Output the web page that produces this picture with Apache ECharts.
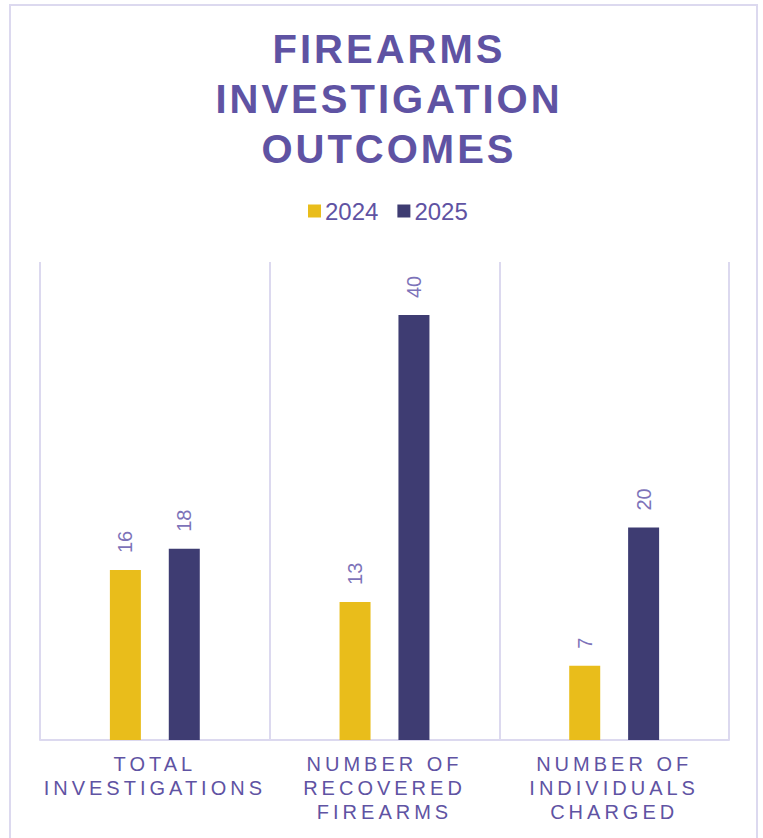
<!DOCTYPE html>
<html>
<head>
<meta charset="utf-8">
<script src="https://cdn.jsdelivr.net/npm/echarts@6/dist/echarts.min.js"></script>
<style>
  html, body { margin: 0; padding: 0; background: #fff; }
  #chart { width: 763px; height: 838px; }
  #chart text[style*="40px"] { letter-spacing: 3px; }
  #chart text[style*="20px"][style*="Arimo"] { letter-spacing: 4px; }
</style>
</head>
<body>
<div id="chart"></div>
<script>
const titleText = 'FIREARMS\nINVESTIGATION\nOUTCOMES';
const categories = ['TOTAL\nINVESTIGATIONS', 'NUMBER OF\nRECOVERED\nFIREARMS', 'NUMBER OF\nINDIVIDUALS\nCHARGED'];
const seriesNames = ['2024', '2025'];
const values2024 = [16, 13, 7];
const values2025 = [18, 40, 20];

const purple = '#5F53A3';
const labelPurple = '#7D73B9';
const gridColor = '#DCD9EF';
const baseFont = 'Liberation Sans, Arial, sans-serif';

const chart = echarts.init(document.getElementById('chart'), null, { renderer: 'svg' });

const barLabel = {
  show: true,
  position: 'top',
  rotate: 90,
  align: 'left',
  verticalAlign: 'middle',
  distance: 17,
  color: labelPurple,
  fontSize: 20,
  fontFamily: baseFont
};

chart.setOption({
  backgroundColor: '#ffffff',
  animation: false,
  graphic: [{
    type: 'rect',
    shape: { x: 10, y: 5, width: 747, height: 900 },
    style: { fill: 'none', stroke: gridColor, lineWidth: 2 },
    silent: true
  }],
  title: {
    text: titleText,
    left: 389,
    top: 24,
    textAlign: 'center',
    padding: 0,
    textStyle: {
      color: purple,
      fontSize: 40,
      fontWeight: 'bold',
      lineHeight: 50,
      fontFamily: baseFont
    }
  },
  legend: {
    data: seriesNames,
    left: 303,
    top: 194,
    padding: 5,
    itemWidth: 13,
    itemHeight: 13,
    itemGap: 19,
    icon: 'rect',
    textStyle: {
      color: purple,
      fontSize: 24,
      fontFamily: baseFont,
      padding: [0, 0, 0, -1]
    }
  },
  grid: { left: 40, right: 34, top: 262, bottom: 98, containLabel: false },
  xAxis: {
    type: 'category',
    data: categories,
    axisLine: { lineStyle: { color: gridColor, width: 2 } },
    axisTick: { show: false },
    splitLine: { show: true, lineStyle: { color: gridColor, width: 2 } },
    axisLabel: {
      color: purple,
      fontSize: 20,
      lineHeight: 24,
      margin: 12,
      interval: 0,
      fontFamily: 'Arimo, Liberation Sans, Arial, sans-serif'
    }
  },
  yAxis: {
    type: 'value',
    min: 0,
    max: 45,
    show: false,
    splitLine: { show: false }
  },
  series: [
    {
      name: seriesNames[0],
      type: 'bar',
      data: values2024,
      barWidth: 31,
      barGap: '90%',
      itemStyle: { color: '#E9BD1B' },
      label: barLabel
    },
    {
      name: seriesNames[1],
      type: 'bar',
      data: values2025,
      barWidth: 31,
      barGap: '90%',
      itemStyle: { color: '#3E3C72' },
      label: barLabel
    }
  ]
});
</script>
</body>
</html>
